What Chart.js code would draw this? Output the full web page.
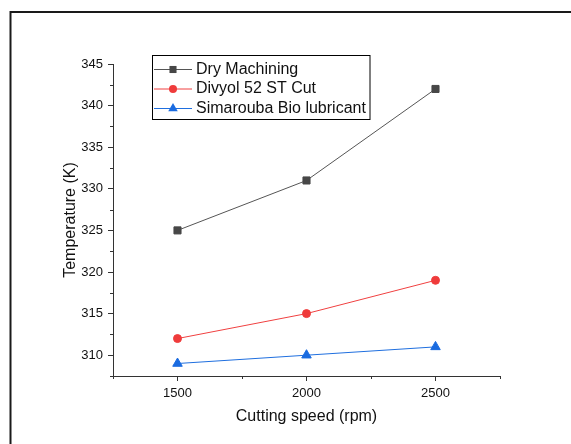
<!DOCTYPE html>
<html>
<head>
<meta charset="utf-8">
<title>Temperature vs cutting speed</title>
<script src="https://cdn.jsdelivr.net/npm/chart.js@4.4.0/dist/chart.umd.min.js"></script>
<style>
  html, body { margin: 0; padding: 0; background: #fff; }
  canvas { display: block; }
</style>
</head>
<body>
<canvas id="temp-chart" width="571" height="444"></canvas>
<script>
// Cutting speeds (rpm) and measured temperatures (K)
const speeds = [1500, 2000, 2500];
const dryMachining = [325, 331, 342];
const divyolCut = [312, 315, 319];
const simaroubaBio = [309, 310, 311];

const seriesNames = ['Dry Machining', 'Divyol 52 ST Cut', 'Simarouba Bio lubricant'];

// Axis ticks
const xTicks = [1500, 2000, 2500];
const xMinorTicks = [1250, 1750, 2250, 2750];
const yTicks = [310, 315, 320, 325, 330, 335, 340, 345];
const yMinorTicks = [307.5, 312.5, 317.5, 322.5, 327.5, 332.5, 337.5, 342.5];

const FONT = "'Liberation Sans', Arial, sans-serif";
const AXIS_COLOR = '#333';

function toPoints(values) {
    return speeds.map((s, i) => ({ x: s, y: values[i] }));
}

// Outer frame, minor ticks and the boxed legend
const extrasPlugin = {
    id: 'extras',
    afterDraw(chart) {
        const ctx = chart.ctx;
        const area = chart.chartArea;
        const xs = chart.scales.x;
        const ys = chart.scales.y;
        ctx.save();

        // frame
        ctx.strokeStyle = '#1a1a1a';
        ctx.lineWidth = 2;
        ctx.beginPath();
        ctx.moveTo(10.5, 444);
        ctx.lineTo(10.5, 12);
        ctx.lineTo(571, 12);
        ctx.stroke();

        // minor ticks
        ctx.strokeStyle = AXIS_COLOR;
        ctx.lineWidth = 1;
        ctx.beginPath();
        xMinorTicks.forEach(v => {
            const px = Math.round(xs.getPixelForValue(v)) + 0.5;
            ctx.moveTo(px, area.bottom);
            ctx.lineTo(px, area.bottom + 3);
        });
        yMinorTicks.forEach(v => {
            const py = Math.round(ys.getPixelForValue(v)) + 0.5;
            ctx.moveTo(area.left, py);
            ctx.lineTo(area.left - 3, py);
        });
        ctx.stroke();

        // legend
        const box = { left: 152.5, top: 55.5, width: 217.5, height: 64 };
        ctx.strokeStyle = '#000';
        ctx.lineWidth = 1;
        ctx.strokeRect(box.left, box.top, box.width, box.height);
        ctx.font = '16px ' + FONT;
        ctx.textBaseline = 'middle';
        ctx.textAlign = 'left';
        chart.data.datasets.forEach((ds, i) => {
            const cy = 69.5 + i * 19.5;
            ctx.strokeStyle = ds.borderColor;
            ctx.lineWidth = 1;
            ctx.beginPath();
            ctx.moveTo(154, cy);
            ctx.lineTo(192, cy);
            ctx.stroke();
            ctx.fillStyle = ds.pointBackgroundColor;
            ctx.strokeStyle = ds.pointBackgroundColor;
            Chart.helpers.drawPoint(ctx, {
                pointStyle: ds.pointStyle,
                radius: ds.pointRadius,
                rotation: 0,
                borderWidth: 0
            }, 173, cy);
            ctx.fillStyle = '#111';
            ctx.fillText(ds.label, 196, cy);
        });

        ctx.restore();
    }
};

const data = {
    datasets: [
        {
            label: seriesNames[0],
            data: toPoints(dryMachining),
            borderColor: '#555555',
            pointBackgroundColor: '#474747',
            pointBorderColor: '#474747',
            pointStyle: 'rect',
            pointRadius: 5,
            borderWidth: 1
        },
        {
            label: seriesNames[1],
            data: toPoints(divyolCut),
            borderColor: '#f04040',
            pointBackgroundColor: '#ef3b3b',
            pointBorderColor: '#ef3b3b',
            pointStyle: 'circle',
            pointRadius: 4,
            borderWidth: 1
        },
        {
            label: seriesNames[2],
            data: toPoints(simaroubaBio),
            borderColor: '#1f6fdf',
            pointBackgroundColor: '#1a6be0',
            pointBorderColor: '#1a6be0',
            pointStyle: 'triangle',
            pointRadius: 5.5,
            borderWidth: 1
        }
    ]
};

const config = {
    type: 'line',
    data: data,
    options: {
        responsive: false,
        animation: false,
        devicePixelRatio: 1,
        layout: {
            padding: { left: 0, top: 64, right: 71, bottom: 0 }
        },
        plugins: {
            legend: { display: false },
            tooltip: { enabled: false }
        },
        scales: {
            x: {
                type: 'linear',
                min: 1250,
                max: 2750,
                afterBuildTicks: scale => {
                    scale.ticks = xTicks.map(v => ({ value: v }));
                },
                afterFit: scale => { scale.height = 68; },
                grid: {
                    drawOnChartArea: false,
                    tickLength: 5,
                    tickColor: AXIS_COLOR
                },
                border: { color: AXIS_COLOR, width: 1 },
                ticks: {
                    padding: 5,
                    color: '#111',
                    font: { family: FONT, size: 13 },
                    maxRotation: 0,
                    callback: v => String(v)
                },
                title: {
                    display: true,
                    text: 'Cutting speed (rpm)',
                    color: '#111',
                    font: { family: FONT, size: 16 },
                    padding: { top: 0, bottom: 17.7 }
                }
            },
            y: {
                type: 'linear',
                min: 307.5,
                max: 345,
                afterBuildTicks: scale => {
                    scale.ticks = yTicks.map(v => ({ value: v }));
                },
                afterFit: scale => { scale.width = 113; },
                grid: {
                    drawOnChartArea: false,
                    tickLength: 5,
                    tickColor: AXIS_COLOR
                },
                border: { color: AXIS_COLOR, width: 1 },
                ticks: {
                    padding: 5,
                    color: '#111',
                    font: { family: FONT, size: 13 },
                    callback: v => String(v)
                },
                title: {
                    display: true,
                    text: 'Temperature (K)',
                    color: '#111',
                    font: { family: FONT, size: 16 },
                    padding: { top: 61, bottom: 0 }
                }
            }
        }
    },
    plugins: [extrasPlugin]
};

const ctx = document.getElementById('temp-chart').getContext('2d');
new Chart(ctx, config);
</script>
</body>
</html>
